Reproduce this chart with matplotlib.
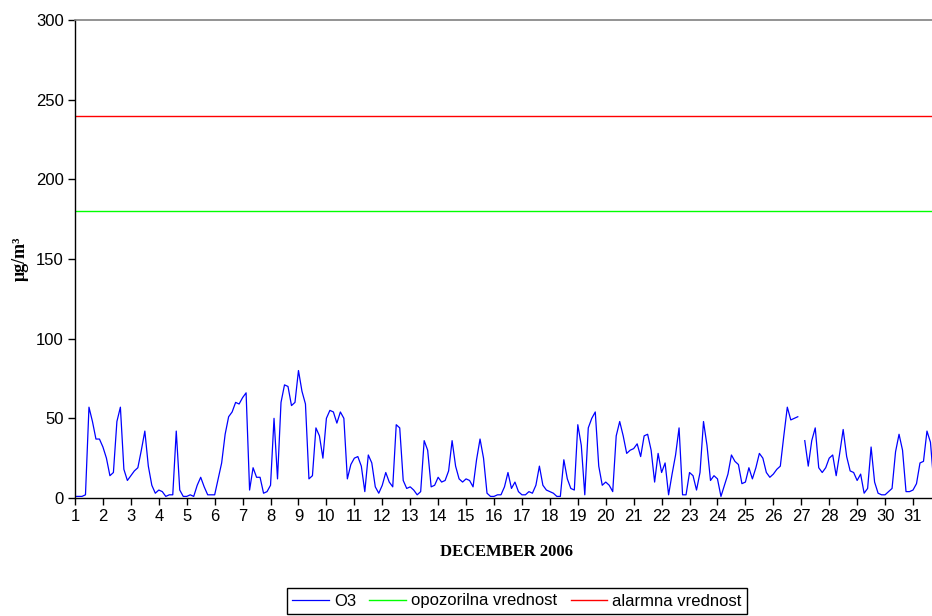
import numpy as np
import matplotlib
matplotlib.use('Agg')
import matplotlib.pyplot as plt

# ---- data (3-hourly readings, 8 per day) ----
days = list(range(1, 32))
samples_per_day = 8
nan = float('nan')
o3 = [
    1, 1, 1, 2, 57, 48, 37, 37,        # 1
    32, 25, 14, 16, 48, 57, 18, 11,    # 2
    14, 17, 19, 30, 42, 20, 8, 3,      # 3
    5, 4, 1, 2, 2, 42, 5, 1,           # 4
    1, 2, 1, 8, 13, 7, 2, 2,           # 5
    2, 12, 22, 40, 51, 54, 60, 59,     # 6
    63, 66, 5, 19, 13, 13, 3, 4,       # 7
    8, 50, 12, 60, 71, 70, 58, 60,     # 8
    80, 67, 59, 12, 14, 44, 39, 25,    # 9
    50, 55, 54, 47, 54, 50, 12, 21,    # 10
    25, 26, 20, 4, 27, 22, 7, 3,       # 11
    8, 16, 10, 7, 46, 44, 11, 6,       # 12
    7, 5, 2, 4, 36, 30, 7, 8,          # 13
    13, 10, 11, 17, 36, 20, 12, 10,    # 14
    12, 11, 7, 24, 37, 25, 3, 1,       # 15
    1, 2, 2, 7, 16, 6, 10, 4,          # 16
    2, 2, 4, 3, 8, 20, 8, 5,           # 17
    4, 3, 1, 1, 24, 12, 6, 5,          # 18
    46, 33, 2, 44, 50, 54, 20, 8,      # 19
    10, 8, 4, 39, 48, 39, 28, 30,      # 20
    31, 34, 26, 39, 40, 30, 10, 28,    # 21
    16, 22, 2, 15, 27, 44, 2, 2,       # 22
    16, 14, 5, 16, 48, 33, 11, 14,     # 23
    12, 1, 8, 15, 27, 23, 21, 9,       # 24
    10, 19, 12, 19, 28, 25, 16, 13,    # 25
    15, 18, 20, 39, 57, 49, 50, 51,    # 26
    nan, 36, 20, 36, 44, 19, 16, 19,   # 27
    25, 27, 14, 28, 43, 26, 17, 16,    # 28
    11, 15, 3, 6, 32, 10, 3, 2,        # 29
    2, 4, 6, 29, 40, 30, 4, 4,         # 30
    5, 9, 22, 23, 42, 35, 8, 6,        # 31
]
opozorilna = 180
alarmna = 240
y_ticks = [0, 50, 100, 150, 200, 250, 300]

W, H = 932, 616
fig = plt.figure(figsize=(W / 100, H / 100), dpi=100)
ax = fig.add_axes([75 / W, 1 - 498 / H, 1 - 75 / W, (498 - 20) / H])

t = np.arange(len(o3)) / samples_per_day + days[0]
ax.plot(t, o3, color='#0000ff', lw=0.9, label='O3')
ax.axhline(opozorilna, color='#00ff00', lw=1.0, label='opozorilna vrednost')
ax.axhline(alarmna, color='#ff0000', lw=1.0, label='alarmna vrednost')

ax.set_xlim(1, 31.68)
ax.set_ylim(0, 300)
ax.set_xticks(days)
ax.set_xticklabels([str(d) for d in days], family='Liberation Sans', fontsize=12)
ax.set_yticks(y_ticks)
ax.set_yticklabels([str(v) for v in y_ticks], family='Liberation Sans', fontsize=12)
ax.tick_params(axis='both', direction='out', length=5, width=1, color='black', pad=3)

for s in ['left', 'bottom']:
    ax.spines[s].set_color('black')
    ax.spines[s].set_linewidth(1)
ax.spines['top'].set_color('#808080')
ax.spines['top'].set_linewidth(1.2)
ax.spines['right'].set_visible(False)

ax.set_xlabel('DECEMBER 2006', family='Liberation Serif', fontweight='bold',
              fontsize=12, va='center')
ax.xaxis.set_label_coords(0.503, -(552 - 498) / 478)
ax.set_ylabel('μg/m³', family='Liberation Serif', fontweight='bold',
              fontsize=13, va='center')
ax.yaxis.set_label_coords(-(75 - 20) / 857, 0.5)

leg = fig.legend(loc='center', bbox_to_anchor=(517 / W, 1 - 601 / H), ncol=3,
                 frameon=True, fancybox=False, edgecolor='black', framealpha=1,
                 prop={'family': 'Liberation Sans', 'size': 12},
                 handlelength=2.2, handletextpad=0.3, columnspacing=0.8,
                 borderpad=0.35)
leg.get_frame().set_linewidth(1.0)

fig.savefig('out.png', dpi=100)
